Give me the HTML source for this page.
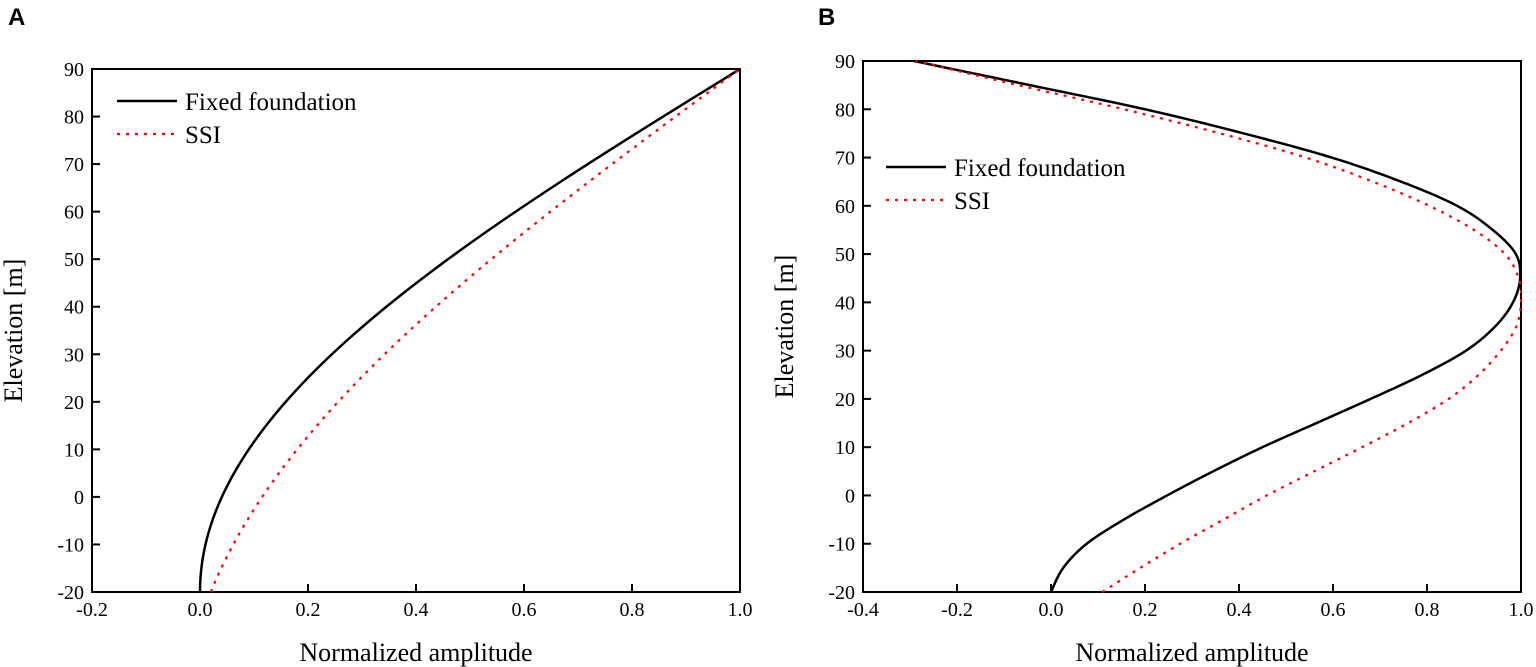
<!DOCTYPE html>
<html><head><meta charset="utf-8"><style>
body{margin:0;background:#fff}
svg{display:block}
text{font-family:"Liberation Serif",serif;fill:#000}
</style></head><body>
<svg id="s" width="1536" height="667" viewBox="0 0 1536 667" xmlns="http://www.w3.org/2000/svg">
<text x="8" y="25" style="font-family:'Liberation Sans',sans-serif;font-weight:bold;font-size:24px">A</text>
<text x="818" y="25" style="font-family:'Liberation Sans',sans-serif;font-weight:bold;font-size:24px">B</text>
<g id="g"></g>
</svg>
<script>
const NS="http://www.w3.org/2000/svg",g=document.getElementById('g');
function el(t,a,txt){const e=document.createElementNS(NS,t);for(const k in a)e.setAttribute(k,a[k]);if(txt!=null)e.textContent=txt;g.appendChild(e);return e;}
function panel(P){
 const X=v=>P.x0+(v-P.xmin)/(P.xmax-P.xmin)*(P.x1-P.x0);
 const Y=v=>P.y1-(v+20)/110*(P.y1-P.y0);
 el('rect',{x:P.x0,y:P.y0,width:P.x1-P.x0,height:P.y1-P.y0,fill:'none',stroke:'#000','stroke-width':2});
 for(let v=P.xmin;v<=P.xmax+1e-9;v+=0.2){const x=X(v);el('line',{x1:x,x2:x,y1:P.y1,y2:P.y1-8,stroke:'#000','stroke-width':2});
  el('text',{x:x,y:P.y1+24,'text-anchor':'middle','font-size':20},(Math.abs(v)<1e-9?0:v).toFixed(1));}
 for(let v=-20;v<=90;v+=10){const y=Y(v);el('line',{x1:P.x0,x2:P.x0+8,y1:y,y2:y,stroke:'#000','stroke-width':2});
  el('text',{x:P.x0-8,y:y+7,'text-anchor':'end','font-size':20},v);}
 el('text',{x:(P.x0+P.x1)/2,y:661,'text-anchor':'middle','font-size':26},'Normalized amplitude');
 const lx=P.x0-70,ly=(P.y0+P.y1)/2;
 el('text',{x:lx,y:ly,'text-anchor':'middle','font-size':26,transform:`rotate(-90 ${lx} ${ly})`},'Elevation [m]');
 const path=(pts,st)=>{let d='';pts.forEach((p,i)=>d+=(i?'L':'M')+X(p[0]).toFixed(2)+','+Y(p[1]).toFixed(2));
  el('path',Object.assign({d:d,fill:'none'},st));};
 path(P.fx,{stroke:'#000','stroke-width':2.5});
 path(P.ss,{stroke:'#f00','stroke-width':2.2,'stroke-dasharray':'3 6'});
 el('line',{x1:P.lx,x2:P.lx+60,y1:P.ly,y2:P.ly,stroke:'#000','stroke-width':2.5});
 el('text',{x:P.lx+68,y:P.ly+9,'font-size':25},'Fixed foundation');
 el('line',{x1:P.lx,x2:P.lx+60,y1:P.ly+33,y2:P.ly+33,stroke:'#f00','stroke-width':2.2,'stroke-dasharray':'3 6'});
 el('text',{x:P.lx+68,y:P.ly+42,'font-size':25},'SSI');
}
function cr(pts,n){const out=[];for(let i=0;i<pts.length-1;i++){const p0=pts[Math.max(i-1,0)],p1=pts[i],p2=pts[i+1],p3=pts[Math.min(i+2,pts.length-1)];
 for(let k=0;k<n;k++){const t=k/n,t2=t*t,t3=t2*t;const f=j=>0.5*((2*p1[j])+(-p0[j]+p2[j])*t+(2*p0[j]-5*p1[j]+4*p2[j]-p3[j])*t2+(-p0[j]+3*p1[j]-3*p2[j]+p3[j])*t3);out.push([f(0),f(1)]);}}
 out.push(pts[pts.length-1]);return out;}
const fa=[],sa=[];
for(let e=-20;e<=90.001;e+=1){const h=(e+20)/110,c=1-Math.cos(Math.PI*h/2);fa.push([c,e]);sa.push([0.02+0.98*(0.6*c+0.4*h),e]);}
panel({x0:92,x1:740,y0:69,y1:592,xmin:-0.2,xmax:1.0,fx:fa,ss:sa,lx:117,ly:101});
const fb=cr([[0,-20],[0.026,-15],[0.076,-10],[0.155,-5],[0.247,0],[0.345,5],[0.45,10],[0.565,15],[0.68,20],[0.79,25],[0.883,30],[0.945,35],[0.983,40],[0.998,45],[0.989,50],[0.94,55],[0.864,60],[0.745,65],[0.597,70],[0.41,75],[0.2,80],[-0.045,85],[-0.292,90]],10);
const sb=cr([[0.109,-20],[0.19,-15],[0.275,-10],[0.367,-5],[0.459,0],[0.56,5],[0.662,10],[0.76,15],[0.846,20],[0.91,25],[0.957,30],[0.99,35],[1.0,40],[0.995,45],[0.966,50],[0.9,55],[0.805,60],[0.685,65],[0.542,70],[0.36,75],[0.155,80],[-0.07,85],[-0.288,90]],10);
panel({x0:863,x1:1521,y0:61,y1:592,xmin:-0.4,xmax:1.0,fx:fb,ss:sb,lx:886,ly:167});
</script>
</body></html>
